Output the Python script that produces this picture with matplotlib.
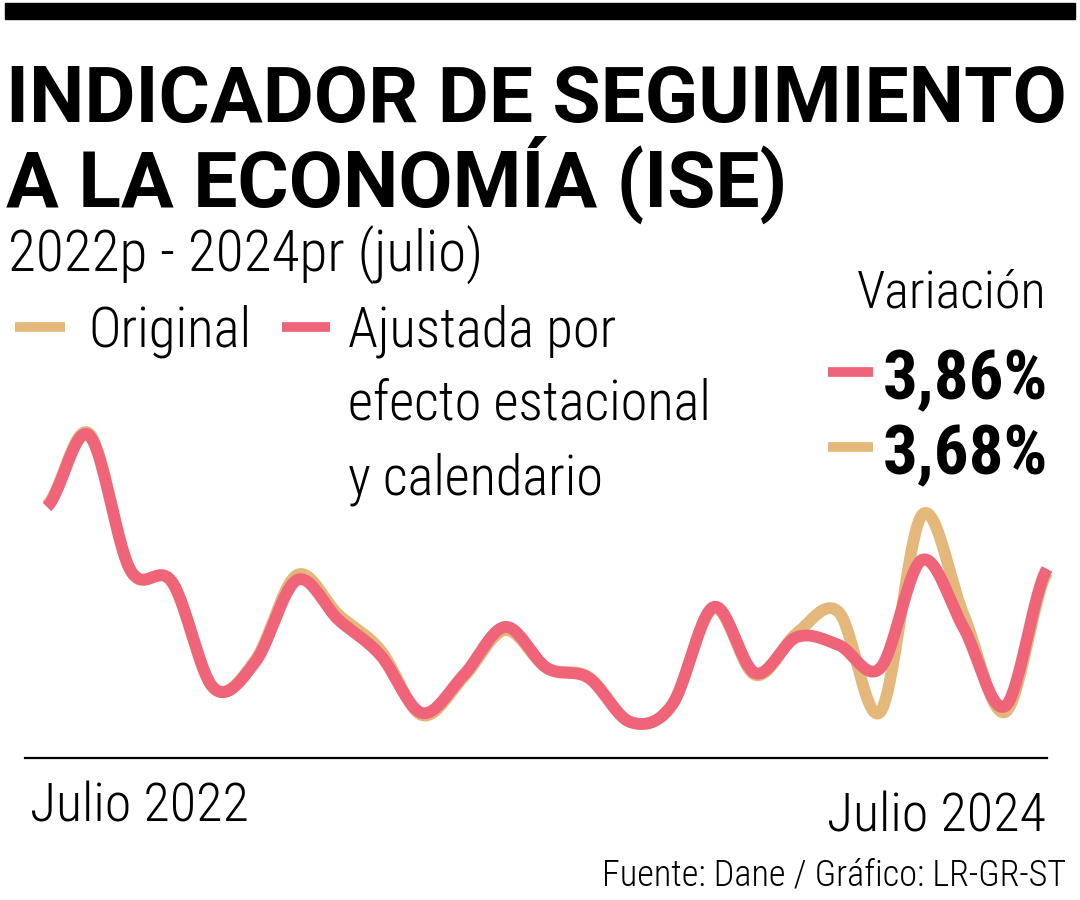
# Indicador de Seguimiento a la Economía (ISE), variación anual, julio 2022 - julio 2024

import numpy as np
import matplotlib.pyplot as plt
from matplotlib import font_manager

meses = list(range(25))  # 0 = julio 2022 ... 24 = julio 2024
etiquetas_x = ["Julio 2022", "Julio 2024"]

original = [6.90, 10.33, 3.81, 3.24, -1.81, -0.48, 3.57, 1.67, 0.00, -3.10,
            -1.29, 0.95, -0.86, -1.29, -3.43, -2.62, 2.00, -1.19, 0.81, 1.81,
            -2.95, 6.43, 1.67, -2.95, 3.68]
ajustada = [6.81, 10.24, 3.81, 3.24, -1.81, -0.57, 3.33, 1.43, -0.24, -3.00,
            -1.19, 1.10, -0.86, -1.33, -3.43, -2.62, 2.05, -1.10, 0.62, 0.24,
            -0.86, 4.29, 1.05, -2.67, 3.86]

COL_ORIG = "#E3B87A"
COL_AJUS = "#EF6479"


def elegir_fuente(opciones):
    nombres = {f.name for f in font_manager.fontManager.ttflist}
    for n in opciones:
        if n in nombres:
            return n
    return "DejaVu Sans"


def suavizar(x, y, n=24):
    # curva Catmull-Rom que pasa por todos los puntos
    p = np.asarray(y, float)
    p = np.concatenate([[p[0]], p, [p[-1]]])
    xs, ys = [], []
    for i in range(1, len(p) - 2):
        t = np.linspace(0, 1, n, endpoint=False)
        p0, p1, p2, p3 = p[i - 1], p[i], p[i + 1], p[i + 2]
        v = 0.5 * (2 * p1 + (-p0 + p2) * t
                   + (2 * p0 - 5 * p1 + 4 * p2 - p3) * t ** 2
                   + (-p0 + 3 * p1 - 3 * p2 + p3) * t ** 3)
        xs.append(x[i - 1] + t * (x[i] - x[i - 1]))
        ys.append(v)
    xs.append([x[-1]])
    ys.append([p[-2]])
    return np.concatenate(xs), np.concatenate(ys)


def fx(px):
    return px / 1080


def fy(py):
    return 1 - py / 900


def texto(fig, x, y, s, ancho, tam_max, **kw):
    # coloca un texto y reduce su tamaño para que no pase del ancho dado (px)
    t = fig.text(fx(x), fy(y), s, fontsize=tam_max, va="baseline", **kw)
    r = fig.canvas.get_renderer()
    w = t.get_window_extent(renderer=r).width
    if w > ancho:
        t.set_fontsize(tam_max * ancho / w)
    return t


def main():
    cond = elegir_fuente(["Roboto Condensed", "Liberation Sans Narrow", "Roboto"])
    ancha = elegir_fuente(["Roboto", "Liberation Sans"])
    plt.rcParams["font.family"] = [cond, "DejaVu Sans"]
    fig = plt.figure(figsize=(10.8, 9), dpi=100)
    fig.patch.set_facecolor("white")
    fino = dict(fontweight="light")

    # barra negra superior
    fig.patches.append(plt.Rectangle((fx(5), fy(19)), fx(1070), 16 / 900,
                                     transform=fig.transFigure, color="black"))

    t = texto(fig, 6, 122, "INDICADOR DE SEGUIMIENTO", 1060, 58,
              fontweight="bold", family=[ancha, "DejaVu Sans"])
    fig.text(fx(6), fy(207), "A LA ECONOMÍA (ISE)", fontsize=t.get_fontsize(),
             va="baseline", fontweight="bold", family=[ancha, "DejaVu Sans"])
    texto(fig, 8, 272, "2022p - 2024pr (julio)", 476, 42, **fino)

    # leyenda
    y_leg = 327
    fig.add_artist(plt.Line2D([fx(15), fx(65)], [fy(y_leg), fy(y_leg)],
                              color=COL_ORIG, lw=7, solid_capstyle="butt"))
    texto(fig, 88, 347, "Original", 163, 44, **fino)
    fig.add_artist(plt.Line2D([fx(282), fx(330)], [fy(y_leg), fy(y_leg)],
                              color=COL_AJUS, lw=7, solid_capstyle="butt"))
    t1 = texto(fig, 348, 347, "Ajustada por", 268, 44, **fino)
    tam = t1.get_fontsize()
    for yy, s in [(420, "efecto estacional"), (494, "y calendario")]:
        fig.text(fx(348), fy(yy), s, fontsize=tam, va="baseline", **fino)

    texto(fig, 1046, 308, "Variación", 190, 44, ha="right", **fino)
    for yy, col, txt in [(372, COL_AJUS, "3,86%"), (447, COL_ORIG, "3,68%")]:
        fig.add_artist(plt.Line2D([fx(828), fx(873)], [fy(yy), fy(yy)],
                                  color=col, lw=7, solid_capstyle="butt"))
        texto(fig, 1048, yy + 27, txt, 165, 56, fontweight="bold", ha="right")

    # grafico de lineas
    x0 = (25 - 47) / (1000 / 24)
    ax = fig.add_axes([fx(25), fy(758), fx(1047) - fx(25), (758 - 420) / 900])
    ax.set_xlim(x0, 24)
    ax.set_ylim((650 - 758) / 21, (650 - 420) / 21)
    xs, ys = suavizar(meses, original)
    ax.plot(xs, ys, color=COL_ORIG, lw=8.5, solid_capstyle="butt", clip_on=False)
    xs, ys = suavizar(meses, ajustada)
    ax.plot(xs, ys, color=COL_AJUS, lw=8.5, solid_capstyle="butt", clip_on=False)
    for s in ["top", "right", "left"]:
        ax.spines[s].set_visible(False)
    ax.spines["bottom"].set_linewidth(1.6)
    ax.set_xticks([])
    ax.set_yticks([])
    ax.patch.set_alpha(0)

    texto(fig, 30, 822, etiquetas_x[0], 218, 48, **fino)
    texto(fig, 1046, 832, etiquetas_x[1], 218, 48, ha="right", **fino)
    texto(fig, 1066, 885, "Fuente: Dane / Gráfico: LR-GR-ST", 466, 36,
          ha="right", **fino)

    fig.savefig("out.png", dpi=100)


if __name__ == "__main__":
    main()
